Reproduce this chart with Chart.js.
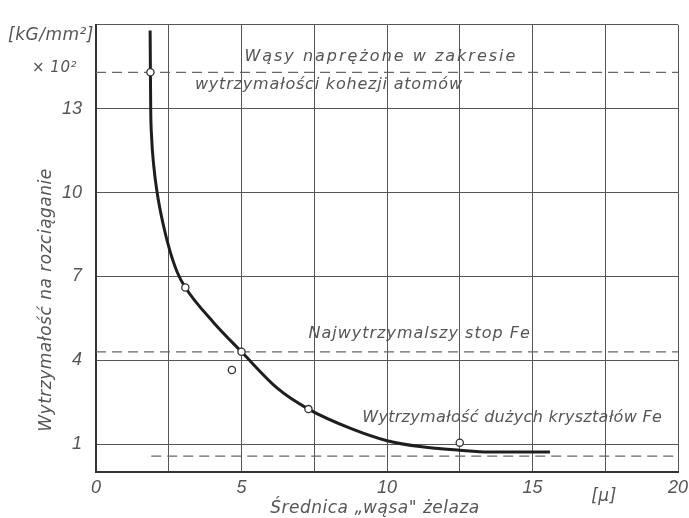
<!DOCTYPE html>
<html>
<head>
<meta charset="utf-8">
<script src="https://cdn.jsdelivr.net/npm/chart.js@4.4.1/dist/chart.umd.min.js"></script>
<style>
  html, body { margin: 0; padding: 0; background: #fff; }
  #wrap { width: 689px; height: 518px; }
</style>
</head>
<body>
<div id="wrap"><canvas id="chart"></canvas></div>
<script>
// krzywa wytrzymalosci wasow zelaza
const diameter = [1.86, 1.87, 1.88, 1.91, 1.98, 2.1, 2.3, 2.53, 2.8, 3.07, 4.03, 5.0, 6.25, 7.3, 8.75, 10, 11.2, 12.5, 13.5, 15.6];
const strength = [15.8, 14.3, 13, 12, 11, 10, 8.9, 7.95, 7.13, 6.6, 5.36, 4.3, 2.98, 2.25, 1.56, 1.12, 0.9, 0.78, 0.72, 0.72];

// punkty pomiarowe (kolka)
const pointsX = [1.87, 3.07, 5.0, 7.3, 4.67, 12.5];
const pointsY = [14.3, 6.6, 4.3, 2.25, 3.65, 1.05];

// poziomy odniesienia (linie przerywane)
const cohesionX = [0, 20];
const cohesionY = [14.3, 14.3];
const alloyX = [0, 20];
const alloyY = [4.3, 4.3];
const crystalX = [1.9, 20];
const crystalY = [0.57, 0.57];

const xTicks = [0, 5, 10, 15, 20];
const yTicks = [1, 4, 7, 10, 13];

const ink = '#555';
const font = '"DejaVu Sans", sans-serif';

function pts(xs, ys) {
  return xs.map((x, i) => ({ x: x, y: ys[i] }));
}

function dashed(xs, ys) {
  return {
    type: 'line',
    data: pts(xs, ys),
    borderColor: '#666',
    borderWidth: 1.2,
    borderDash: [10, 6],
    pointRadius: 0,
    order: 2
  };
}

const labels = {
  id: 'labels',
  afterDraw(chart) {
    const c = chart.ctx;
    const xs = chart.scales.x, ys = chart.scales.y;
    c.save();
    c.fillStyle = ink;
    c.textBaseline = 'middle';
    c.font = 'italic 16px ' + font;
    c.textAlign = 'left';
    c.letterSpacing = '2px';
    c.fillText('Wąsy naprężone w zakresie', xs.getPixelForValue(5.1), ys.getPixelForValue(14.87));
    c.letterSpacing = '0.8px';
    c.fillText('wytrzymałości kohezji atomów', xs.getPixelForValue(3.4), ys.getPixelForValue(13.84));
    c.letterSpacing = '1px';
    c.fillText('Najwytrzymalszy stop Fe', xs.getPixelForValue(7.3), ys.getPixelForValue(4.93));
    c.letterSpacing = '0.3px';
    c.fillText('Wytrzymałość dużych kryształów Fe', xs.getPixelForValue(9.15), ys.getPixelForValue(1.95));

    // tytuly osi
    c.letterSpacing = '0.5px';
    c.font = 'italic 17px ' + font;
    c.textAlign = 'center';
    c.fillText('Średnica „wąsa" żelaza', 375, 509);
    c.fillText('[μ]', 604, 497);
    c.save();
    c.translate(47, 300);
    c.rotate(-Math.PI / 2);
    c.fillText('Wytrzymałość na rozciąganie', 0, 0);
    c.restore();

    // jednostka
    c.textAlign = 'left';
    c.fillText('[kG/mm²]', 8, 36);
    c.font = 'italic 15px ' + font;
    c.fillText('× 10²', 32, 68);
    c.restore();
  }
};

new Chart(document.getElementById('chart'), {
  data: {
    datasets: [
      {
        type: 'scatter',
        data: pts(pointsX, pointsY),
        pointStyle: 'circle',
        pointRadius: 3.6,
        backgroundColor: '#fff',
        borderColor: '#333',
        borderWidth: 1.3,
        order: 0
      },
      {
        type: 'line',
        data: pts(diameter, strength),
        borderColor: '#1e1e1e',
        borderWidth: 3,
        pointRadius: 0,
        cubicInterpolationMode: 'monotone',
        order: 1
      },
      dashed(cohesionX, cohesionY),
      dashed(alloyX, alloyY),
      dashed(crystalX, crystalY)
    ]
  },
  options: {
    responsive: true,
    maintainAspectRatio: false,
    animation: false,
    layout: { padding: { top: 20, right: 11, left: 0, bottom: 0 } },
    plugins: { legend: { display: false }, tooltip: { enabled: false } },
    scales: {
      x: {
        type: 'linear',
        min: 0, max: 20,
        afterFit(s) { s.height = 46; s.paddingRight = 0; s.paddingLeft = 0; },
        grid: { color: '#555', lineWidth: 1, drawTicks: false },
        border: { color: '#333', width: 2 },
        ticks: {
          stepSize: 2.5,
          padding: 5,
          color: ink,
          maxRotation: 0,
          font: { family: 'Liberation Sans', style: 'italic', size: 18 },
          callback: v => xTicks.includes(v) ? v : ''
        }
      },
      y: {
        min: 0, max: 16,
        afterFit(s) { s.width = 96; },
        afterBuildTicks(s) { s.ticks = yTicks.concat([16]).map(v => ({ value: v })); },
        grid: { color: '#555', lineWidth: 1, drawTicks: false },
        border: { color: '#333', width: 2 },
        ticks: {
          padding: 14,
          color: ink,
          font: { family: 'Liberation Sans', style: 'italic', size: 18 },
          callback: v => yTicks.includes(v) ? v : ''
        }
      }
    }
  },
  plugins: [labels]
});
</script>
</body>
</html>
